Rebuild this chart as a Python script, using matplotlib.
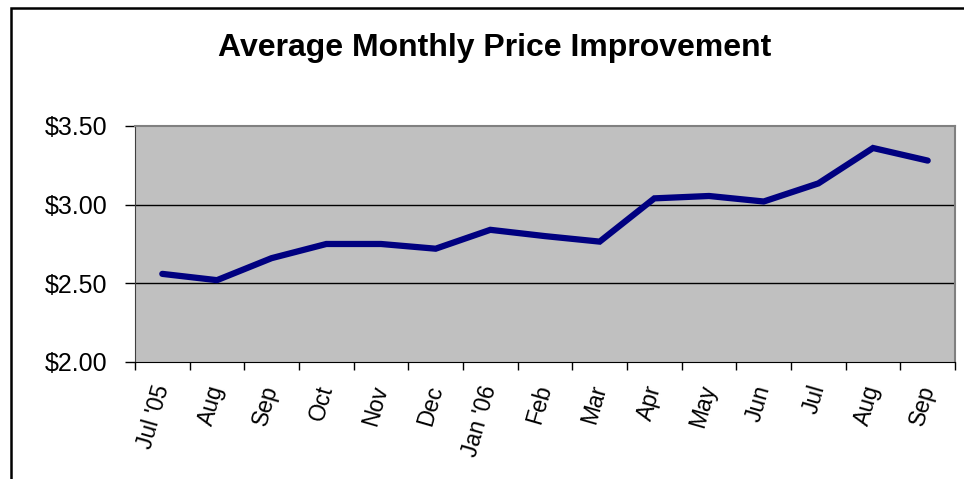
import matplotlib
matplotlib.use('Agg')
import matplotlib.pyplot as plt
from matplotlib.patches import Rectangle
import numpy as np

months = ["Jul '05", 'Aug', 'Sep', 'Oct', 'Nov', 'Dec', "Jan '06", 'Feb', 'Mar',
          'Apr', 'May', 'Jun', 'Jul', 'Aug', 'Sep']
price_improvement = [2.56, 2.52, 2.66, 2.75, 2.75, 2.72, 2.84, 2.80, 2.765,
                     3.04, 3.055, 3.02, 3.135, 3.36, 3.28]
y_ticks = [2.0, 2.5, 3.0, 3.5]

plt.rcParams['font.family'] = ['Liberation Sans', 'DejaVu Sans']

fig = plt.figure(figsize=(9.64, 4.79), dpi=100)
ax = fig.add_axes([0.140, 0.2443, 0.8507, 0.4927])
ax.set_facecolor('#C0C0C0')

x = np.arange(len(months))
ax.plot(x, price_improvement, color='#000080', linewidth=4.5, solid_capstyle='round',
        solid_joinstyle='miter', zorder=3)

ax.set_xlim(-0.5, len(months) - 0.5)
ax.set_ylim(2.0, 3.5)
ax.set_yticks(y_ticks)
ax.set_yticklabels(['$%.2f' % v for v in y_ticks], fontsize=18)
ax.tick_params(axis='y', direction='out', length=7, width=1, pad=13)
for v in y_ticks[1:-1]:
    ax.axhline(v, color='black', linewidth=1, zorder=2)

# ticks between categories, labels centered on categories
ax.set_xticks(np.arange(-0.5, len(months), 1.0))
ax.set_xticklabels([])
ax.tick_params(axis='x', which='major', direction='out', length=6, width=1)
ax.set_xticks(x, minor=True)
ax.set_xticklabels(months, minor=True, fontsize=16.5, rotation=74,
                   ha='right', va='center', rotation_mode='anchor')
ax.tick_params(axis='x', which='minor', length=0, pad=17)

for side in ['top', 'right']:
    ax.spines[side].set_color('#808080')
    ax.spines[side].set_linewidth(1.5)
ax.spines['left'].set_color('#404040')
ax.spines['bottom'].set_color('black')

fig.text(0.513, 0.900, 'Average Monthly Price Improvement', fontsize=23,
         fontweight='bold', ha='center', va='center')

fig.patches.append(Rectangle((0.0114, -0.1), 1.2, 1.0833, transform=fig.transFigure,
                             fill=False, edgecolor='black', linewidth=1.8))

fig.savefig('out.png', dpi=100)
